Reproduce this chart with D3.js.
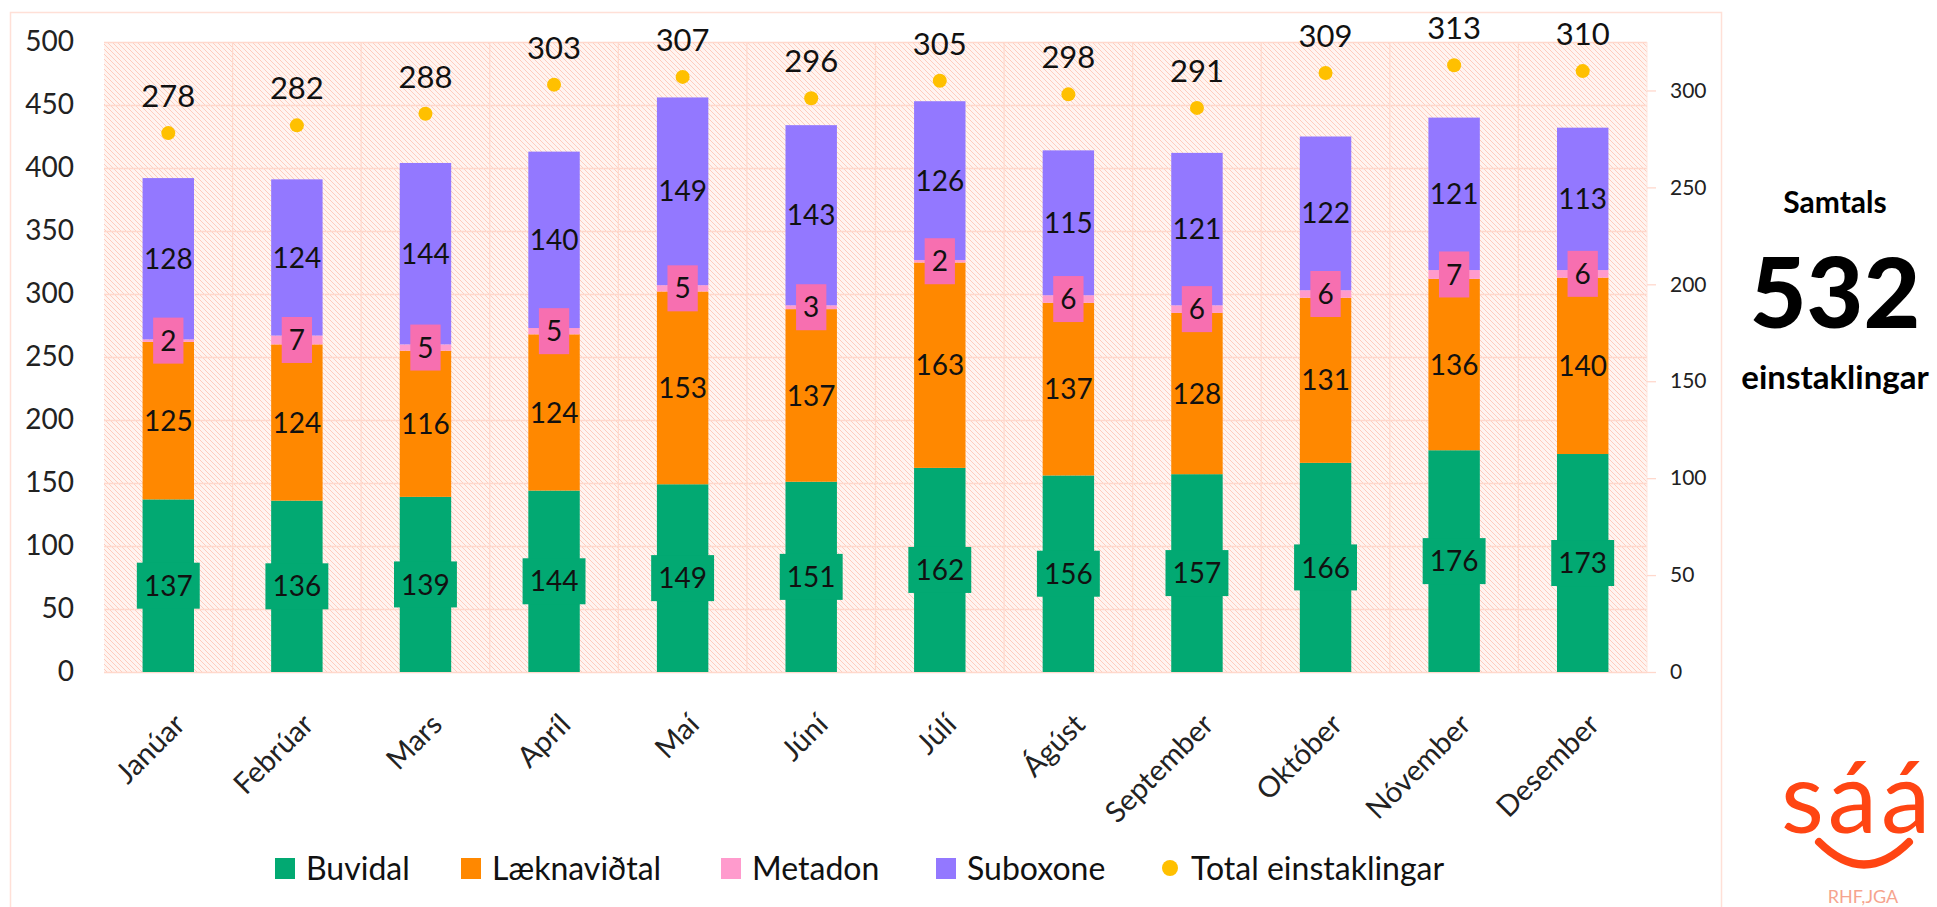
<!DOCTYPE html>
<html>
<head>
<meta charset="utf-8">
<script src="https://cdn.jsdelivr.net/npm/d3@7"></script>
<style>
  html, body { margin: 0; padding: 0; background: #ffffff; }
  svg { display: block; font-family: Lato, "Open Sans", sans-serif; }
</style>
</head>
<body>
<svg id="chart" width="1937" height="907"></svg>
<script>
// ---- Data ----
const months = ["Janúar","Febrúar","Mars","Apríl","Maí","Júní","Júlí","Ágúst","September","Október","Nóvember","Desember"];
const buvidal = [137,136,139,144,149,151,162,156,157,166,176,173];
const laeknavidtal = [125,124,116,124,153,137,163,137,128,131,136,140];
const metadon = [2,7,5,5,5,3,2,6,6,6,7,6];
const suboxone = [128,124,144,140,149,143,126,115,121,122,121,113];
const total = [278,282,288,303,307,296,305,298,291,309,313,310];
const seriesNames = ["Buvidal","Læknaviðtal","Metadon","Suboxone"];
const totalName = "Total einstaklingar";
const leftTicks = [0,50,100,150,200,250,300,350,400,450,500];
const rightTicks = [0,50,100,150,200,250,300];
const sideTitle = "Samtals";
const sideNumber = "532";
const sideUnit = "einstaklingar";

// ---- Styles ----
const colors = {"Buvidal":"#02A972","Læknaviðtal":"#FF8800","Metadon":"#FF9BCD","Suboxone":"#9378FF"};
const labelBox = {"Buvidal":"#02A972","Metadon":"#F76FB0"};
const dotColor = "#FFC000";
const gridColor = "#FFD8CC";

const svg = d3.select("#chart");
const plot = {left:104, right:1647, top:42, bottom:672};

const defs = svg.append("defs");
const pat = defs.append("pattern").attr("id","hatch").attr("patternUnits","userSpaceOnUse")
  .attr("width",5).attr("height",5);
pat.append("rect").attr("width",5).attr("height",5).attr("fill","#FFF4F0");
pat.append("path").attr("d","M-1,-1 L6,6 M-1,4 L1,6 M4,-1 L6,1").attr("stroke","#FFCCBD").attr("stroke-width",1);

// outer chart border
svg.append("rect").attr("x",10.5).attr("y",12.5).attr("width",1711).attr("height",920)
  .attr("fill","none").attr("stroke","#FFE0D7").attr("stroke-width",1.5);

const x = d3.scaleBand().domain(months).range([plot.left, plot.right]).padding(0);
const yL = d3.scaleLinear().domain([0,500]).range([plot.bottom, plot.top]);
const yR = d3.scaleLinear().domain([0,325]).range([plot.bottom, plot.top]);
const barW = x.bandwidth()*0.4;

// plot background
svg.append("rect").attr("x",plot.left).attr("y",plot.top).attr("width",plot.right-plot.left)
  .attr("height",plot.bottom-plot.top).attr("fill","url(#hatch)");

// gridlines
svg.append("g").selectAll("line").data(leftTicks).join("line")
  .attr("x1",plot.left).attr("x2",plot.right).attr("y1",d=>yL(d)+0.5).attr("y2",d=>yL(d)+0.5)
  .attr("stroke",gridColor).attr("stroke-width",1.3);
svg.append("g").selectAll("line").data(months.slice(1)).join("line")
  .attr("x1",d=>x(d)).attr("x2",d=>x(d)).attr("y1",plot.top).attr("y2",plot.bottom)
  .attr("stroke",gridColor).attr("stroke-width",1.2);
svg.append("line").attr("x1",plot.right).attr("x2",plot.right).attr("y1",plot.top).attr("y2",plot.bottom)
  .attr("stroke","#FFE6DE").attr("stroke-width",1);

// left axis
const axL = svg.append("g").attr("transform",`translate(${plot.left},0)`)
  .call(d3.axisLeft(yL).tickValues(leftTicks).tickSize(0).tickPadding(30));
axL.select(".domain").remove();
axL.selectAll("text").attr("font-family","Lato").attr("font-size",28).attr("fill","#222");

// right axis
const axR = svg.append("g").attr("transform",`translate(${plot.right},0)`)
  .call(d3.axisRight(yR).tickValues(rightTicks).tickSize(9).tickPadding(14));
axR.select(".domain").remove();
axR.selectAll("line").attr("stroke",gridColor).attr("stroke-width",1.3);
axR.selectAll("text").attr("font-family","Lato").attr("font-size",21).attr("fill","#222");

// stacked bars
const rows = months.map((m,i)=>({month:m, "Buvidal":buvidal[i], "Læknaviðtal":laeknavidtal[i], "Metadon":metadon[i], "Suboxone":suboxone[i]}));
const stack = d3.stack().keys(seriesNames)(rows);
const cx = m => x(m) + x.bandwidth()/2;

stack.forEach(layer=>{
  svg.append("g").selectAll("rect").data(layer).join("rect")
    .attr("x",d=>cx(d.data.month)-barW/2).attr("width",barW)
    .attr("y",d=>yL(d[1])).attr("height",d=>yL(d[0])-yL(d[1]))
    .attr("fill",colors[layer.key]);
});

// segment labels
stack.forEach(layer=>{
  const g = svg.append("g");
  layer.forEach(d=>{
    const v = d[1]-d[0];
    const px = cx(d.data.month), py = yL((d[0]+d[1])/2);
    const txt = String(v);
    const tw = txt.length*16.3;
    if (labelBox[layer.key]) {
      g.append("rect").attr("x",px-tw/2-7).attr("y",py-23).attr("width",tw+14).attr("height",46)
        .attr("fill",labelBox[layer.key]);
    }
    g.append("text").attr("x",px).attr("y",py).attr("dy","0.36em").attr("text-anchor","middle")
      .attr("font-family","Lato").attr("font-size",28).attr("fill","#111").text(txt);
  });
});

// total dots and labels
svg.append("g").selectAll("circle").data(total).join("circle")
  .attr("cx",(d,i)=>cx(months[i])).attr("cy",d=>yR(d)).attr("r",7).attr("fill",dotColor);
svg.append("g").selectAll("text").data(total).join("text")
  .attr("x",(d,i)=>cx(months[i])).attr("y",d=>yR(d)-26).attr("text-anchor","middle")
  .attr("font-family","Lato").attr("font-size",31).attr("fill","#111").text(d=>d);

// month labels
svg.append("g").selectAll("text").data(months).join("text")
  .attr("transform",d=>`translate(${cx(d)+4},${plot.bottom+40}) rotate(-45)`)
  .attr("text-anchor","end").attr("dy","0.7em")
  .attr("font-family","Lato").attr("font-size",29).attr("fill","#222").text(d=>d);

// legend
const legendItems = [
  {name:seriesNames[0], x:275, type:"sq", color:colors["Buvidal"]},
  {name:seriesNames[1], x:461, type:"sq", color:colors["Læknaviðtal"]},
  {name:seriesNames[2], x:721, type:"sq", color:colors["Metadon"]},
  {name:seriesNames[3], x:936, type:"sq", color:colors["Suboxone"]},
  {name:totalName, x:1162, type:"dot", color:dotColor}
];
const lg = svg.append("g");
legendItems.forEach(it=>{
  if (it.type==="sq") lg.append("rect").attr("x",it.x).attr("y",858).attr("width",20).attr("height",21).attr("fill",it.color);
  else lg.append("circle").attr("cx",it.x+8).attr("cy",868).attr("r",8).attr("fill",it.color);
  lg.append("text").attr("x",it.x+(it.type==="sq"?31:29)).attr("y",880)
    .attr("font-family","Lato").attr("font-size",32).attr("fill","#111").text(it.name);
});

// side summary
const sx = 1835;
svg.append("text").attr("x",sx).attr("y",213).attr("text-anchor","middle").attr("font-family","Lato")
  .attr("font-weight",700).attr("font-size",30).attr("fill","#000").text(sideTitle);
svg.append("text").attr("x",sx).attr("y",328).attr("text-anchor","middle").attr("font-family","Lato")
  .attr("font-weight",900).attr("font-size",98).attr("fill","#000").text(sideNumber);
svg.append("text").attr("x",sx).attr("y",389).attr("text-anchor","middle").attr("font-family","Lato")
  .attr("font-weight",700).attr("font-size",33).attr("fill","#000").text(sideUnit);

// logo
svg.append("text").attr("x",1781).attr("y",833).attr("font-family","Lato").attr("font-weight",400)
  .attr("font-size",99).attr("fill","#FF4513").attr("letter-spacing",4).text("sáá");
svg.append("path").attr("d","M1819,842 Q1864,887 1909,842").attr("fill","none")
  .attr("stroke","#FF4513").attr("stroke-width",8).attr("stroke-linecap","round");
svg.append("text").attr("x",1863).attr("y",903).attr("text-anchor","middle").attr("font-family","Lato")
  .attr("font-size",18).attr("fill","#F6A48E").text("RHF,JGA");
</script>
</body>
</html>
